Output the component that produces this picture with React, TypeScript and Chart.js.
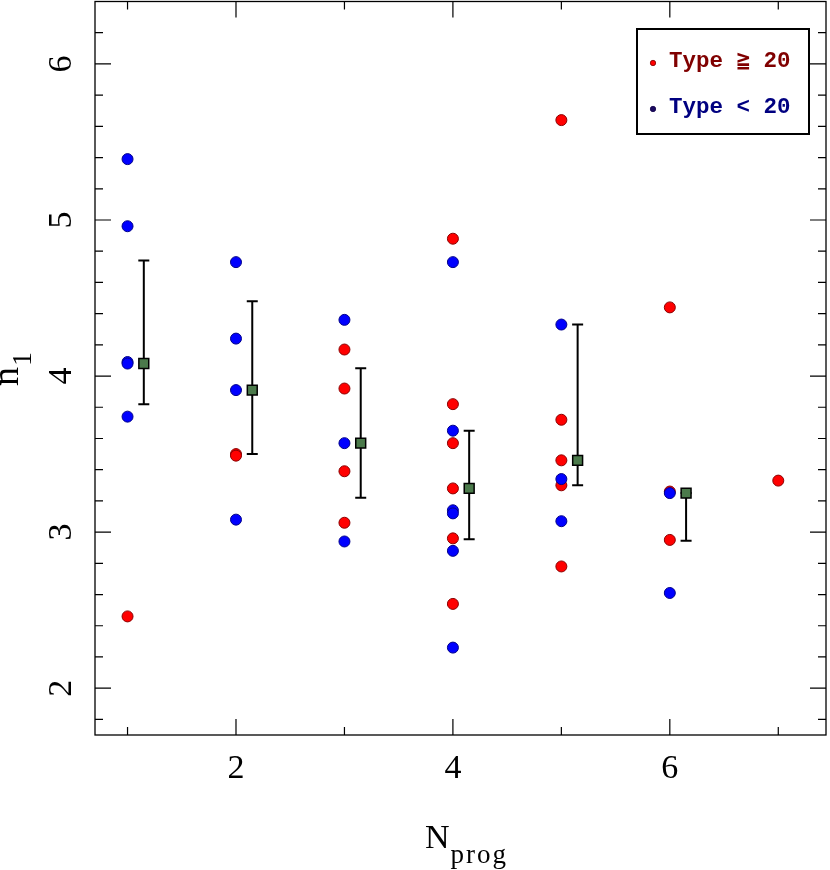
import React, { useEffect, useRef } from "react";
import { Chart, registerables } from "chart.js";

Chart.register(...registerables);

// ---- data ----
const highTypeNprog = [1, 2, 2, 3, 3, 3, 3, 4, 4, 4, 4, 4, 4, 5, 5, 5, 5, 5, 6, 6, 6, 7];
const highTypeN1 = [2.46, 3.5, 3.49, 4.17, 3.92, 3.39, 3.06, 4.88, 3.82, 3.57, 3.28, 2.96, 2.54, 5.64, 3.72, 3.46, 3.3, 2.78, 4.44, 3.26, 2.95, 3.33];

const lowTypeNprog = [1, 1, 1, 1, 1, 2, 2, 2, 2, 3, 3, 3, 4, 4, 4, 4, 4, 4, 5, 5, 5, 6, 6];
const lowTypeN1 = [5.39, 4.96, 4.09, 4.08, 3.74, 4.73, 4.24, 3.91, 3.08, 4.36, 3.57, 2.94, 4.73, 3.65, 3.14, 3.12, 2.88, 2.26, 4.33, 3.34, 3.07, 3.25, 2.61];

const meanNprog = [1, 2, 3, 4, 5, 6];
const meanN1 = [4.08, 3.91, 3.57, 3.28, 3.46, 3.25];
const errHigh = [4.74, 4.48, 4.05, 3.65, 4.33, 3.25];
const errLow = [3.82, 3.5, 3.22, 2.955, 3.3, 2.945];
const MEAN_OFFSET = 0.15;

const xMajorTicks = [2, 4, 6];
const xMinorTicks = [1, 3, 5, 7];
const yMajorTicks = [2, 3, 4, 5, 6];
const Y_MINOR_STEP = 0.2;

const legendLabels = ["Type \u2267 20", "Type < 20"];
const xTitle = ["N", "prog"];
const yTitle = ["n", "1"];

const X_MIN = 0.7;
const X_MAX = 7.44;
const Y_MIN = 1.7;
const Y_MAX = 6.4;

const SERIF = '"Liberation Serif", "Times New Roman", serif';

const decorPlugin = {
  id: "decor",
  beforeDatasetsDraw(chart: any) {
    const { ctx } = chart;
    const x = chart.scales.x;
    const y = chart.scales.y;
    ctx.save();
    ctx.strokeStyle = "#000";
    ctx.lineWidth = 2;
    meanNprog.forEach((n, i) => {
      const px = x.getPixelForValue(n + MEAN_OFFSET);
      const top = y.getPixelForValue(errHigh[i]);
      const bot = y.getPixelForValue(errLow[i]);
      ctx.beginPath();
      ctx.moveTo(px, top);
      ctx.lineTo(px, bot);
      ctx.moveTo(px - 5.5, top);
      ctx.lineTo(px + 5.5, top);
      ctx.moveTo(px - 5.5, bot);
      ctx.lineTo(px + 5.5, bot);
      ctx.stroke();
    });
    ctx.restore();
  },
  afterDraw(chart: any) {
    const { ctx, chartArea } = chart;
    const { left, right, top, bottom } = chartArea;
    const x = chart.scales.x;
    const y = chart.scales.y;
    ctx.save();

    // frame
    ctx.strokeStyle = "#000";
    ctx.lineWidth = 1.3;
    ctx.strokeRect(left, top, right - left, bottom - top);

    // ticks (inward, all four sides)
    const MAJ = 16;
    const MIN = 8;
    ctx.lineWidth = 1.2;
    ctx.beginPath();
    const xt = (v: number, len: number) => {
      const px = x.getPixelForValue(v);
      ctx.moveTo(px, bottom);
      ctx.lineTo(px, bottom - len);
      ctx.moveTo(px, top);
      ctx.lineTo(px, top + len);
    };
    xMajorTicks.forEach((v) => xt(v, MAJ));
    xMinorTicks.forEach((v) => xt(v, MIN));
    const yt = (v: number, len: number) => {
      const py = y.getPixelForValue(v);
      ctx.moveTo(left, py);
      ctx.lineTo(left + len, py);
      ctx.moveTo(right, py);
      ctx.lineTo(right - len, py);
    };
    yMajorTicks.forEach((v) => yt(v, MAJ));
    for (let k = Math.ceil(Y_MIN / Y_MINOR_STEP); k * Y_MINOR_STEP <= Y_MAX + 1e-9; k++) {
      const v = Math.round(k * Y_MINOR_STEP * 10) / 10;
      if (yMajorTicks.some((m) => Math.abs(m - v) < 1e-6)) continue;
      yt(v, MIN);
    }
    ctx.stroke();

    // tick labels
    ctx.fillStyle = "#000";
    ctx.font = `34px ${SERIF}`;
    ctx.textAlign = "center";
    ctx.textBaseline = "alphabetic";
    xMajorTicks.forEach((v) => {
      ctx.fillText(String(v), x.getPixelForValue(v), 778);
    });
    yMajorTicks.forEach((v) => {
      ctx.save();
      ctx.translate(70.5, y.getPixelForValue(v));
      ctx.rotate(-Math.PI / 2);
      ctx.fillText(String(v), 0, 0);
      ctx.restore();
    });

    // x title: N_prog
    ctx.textAlign = "left";
    ctx.font = `34px ${SERIF}`;
    const nW = ctx.measureText(xTitle[0]).width;
    ctx.fillText(xTitle[0], 425, 848);
    ctx.font = `27px ${SERIF}`;
    (ctx as any).letterSpacing = "2px";
    ctx.fillText(xTitle[1], 425 + nW + 1, 863);
    (ctx as any).letterSpacing = "0px";

    // y title: n_1 (rotated)
    ctx.save();
    ctx.translate(17.5, 386);
    ctx.rotate(-Math.PI / 2);
    ctx.font = `38px ${SERIF}`;
    const smallW = ctx.measureText(yTitle[0]).width;
    ctx.fillText(yTitle[0], 0, 0);
    ctx.font = `28px ${SERIF}`;
    ctx.fillText(yTitle[1], smallW + 1, 13.5);
    ctx.restore();

    // legend box
    ctx.lineWidth = 2;
    ctx.strokeStyle = "#000";
    ctx.strokeRect(637, 29, 172, 105);
    const legendColors = [
      { dot: "#ff0000", edge: "#7a0000", text: "#800000", yy: 63 },
      { dot: "#1a0a60", edge: "#10004a", text: "#000080", yy: 109 },
    ];
    ctx.font = `bold 22.5px "Liberation Mono", "DejaVu Sans Mono", monospace`;
    ctx.textAlign = "left";
    legendLabels.forEach((lab, i) => {
      const c = legendColors[i];
      ctx.beginPath();
      ctx.arc(653, c.yy, 2.7, 0, Math.PI * 2);
      ctx.fillStyle = c.dot;
      ctx.fill();
      ctx.lineWidth = 0.8;
      ctx.strokeStyle = c.edge;
      ctx.stroke();
      ctx.fillStyle = c.text;
      ctx.fillText(lab, 669, c.yy + 4);
    });

    ctx.restore();
  },
};

export default function App() {
  const canvasRef = useRef<HTMLCanvasElement | null>(null);

  useEffect(() => {
    if (!canvasRef.current) return;
    const chart = new Chart(canvasRef.current, {
      type: "scatter",
      data: {
        datasets: [
          {
            label: "mean",
            data: meanNprog.map((n, i) => ({ x: n + MEAN_OFFSET, y: meanN1[i] })),
            pointStyle: "rect",
            pointRadius: 7,
            backgroundColor: "#4b7a4b",
            borderColor: "#000",
            borderWidth: 1.5,
          },
          {
            label: legendLabels[1],
            data: lowTypeNprog.map((n, i) => ({ x: n, y: lowTypeN1[i] })),
            pointRadius: 5.5,
            backgroundColor: "#0000ff",
            borderColor: "#00008a",
            borderWidth: 1,
          },
          {
            label: legendLabels[0],
            data: highTypeNprog.map((n, i) => ({ x: n, y: highTypeN1[i] })),
            pointRadius: 5.5,
            backgroundColor: "#ff0000",
            borderColor: "#8a0000",
            borderWidth: 1,
          },
        ],
      },
      options: {
        animation: false,
        responsive: false,
        events: [],
        layout: { autoPadding: false, padding: { left: 95, top: 1.5, right: 4, bottom: 135 } },
        plugins: {
          legend: { display: false },
          tooltip: { enabled: false },
          title: { display: false },
        },
        scales: {
          x: { type: "linear", min: X_MIN, max: X_MAX, display: false },
          y: { type: "linear", min: Y_MIN, max: Y_MAX, display: false },
        },
      },
      plugins: [decorPlugin],
    });
    return () => chart.destroy();
  }, []);

  return (
    <div style={{ position: "fixed", left: 0, top: 0, width: 830, height: 870, background: "#fff" }}>
      <canvas ref={canvasRef} width={830} height={870} style={{ display: "block" }} />
    </div>
  );
}
